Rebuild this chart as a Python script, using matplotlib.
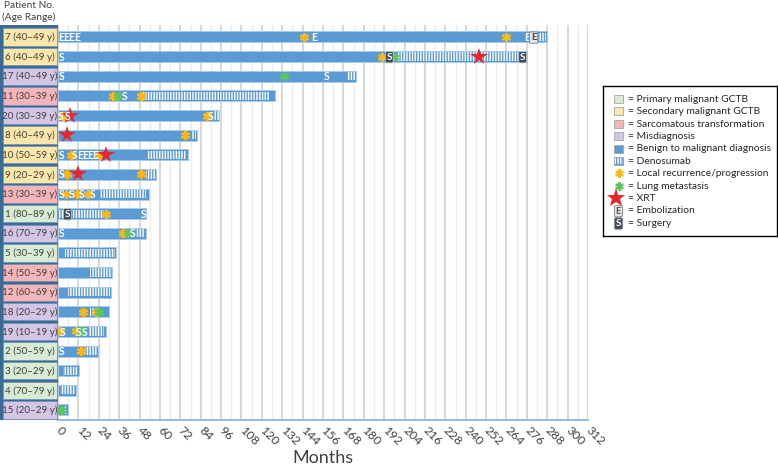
import matplotlib
matplotlib.use('Agg')
import matplotlib.pyplot as plt
from matplotlib.patches import Rectangle
import numpy as np

plt.rcParams['font.family'] = ['Lato', 'DejaVu Sans']
plt.rcParams['hatch.linewidth'] = 1.0

# ---------------- data ----------------
patients = ['7', '6', '17', '11', '20', '8', '10', '9', '13', '1',
            '16', '5', '14', '12', '18', '19', '2', '3', '4', '15']
ages = ['40–49', '40–49', '40–49', '30–39', '30–39', '40–49', '50–59', '20–29', '30–39', '80–89',
        '70–79', '30–39', '50–59', '60–69', '20–29', '10–19', '50–59', '20–29', '70–79', '20–29']
groups = ['secondary', 'secondary', 'misdiagnosis', 'sarcomatous', 'misdiagnosis', 'secondary',
          'secondary', 'secondary', 'sarcomatous', 'primary', 'misdiagnosis', 'primary',
          'sarcomatous', 'sarcomatous', 'misdiagnosis', 'misdiagnosis', 'primary', 'primary',
          'primary', 'misdiagnosis']
durations = [288, 276, 175.5, 128, 95, 82, 76.5, 57.5, 53.5, 52,
             52, 34, 32, 31, 30, 28, 23.5, 12.5, 10.5, 6]

denosumab = {
    '7': [(282, 287)], '6': [(200, 272)], '17': [(170, 175)], '11': [(50, 124)],
    '20': [(92, 94.5)], '8': [(79, 81)], '10': [(53, 75.5)], '9': [(52, 57)],
    '13': [(25, 52)], '1': [(0, 4), (8, 27)], '16': [(46, 51.5)], '5': [(4, 33.5)],
    '14': [(19, 31.5)], '12': [(6, 30.5)], '18': [(19, 22)], '19': [(18, 27)],
    '2': [(16, 23)], '3': [(3, 12)], '4': [(2, 10)], '15': [(4, 5)],
}
local_recurrence = {
    '7': [145, 264], '6': [191], '11': [32.5, 49], '20': [3, 88], '8': [75],
    '10': [7.5, 24.5], '9': [5.5, 49], '13': [4.5, 11, 17.5], '1': [28.5],
    '16': [38], '18': [15, 22.5], '19': [1, 10.5], '2': [13.5],
}
lung_metastasis = {
    '6': [198], '17': [133], '11': [35.5], '16': [41], '18': [24], '19': [13.5], '15': [2],
}
xrt = {'6': [248], '20': [7], '8': [5.5], '10': [28.5], '9': [11.5]}
surgery = {
    '6': [2], '17': [2, 158], '11': [39.5], '20': [1.3, 5.6, 90], '10': [2, 10],
    '9': [2], '13': [2, 8, 14, 20.5], '1': [50.5], '16': [2, 44],
    '19': [3, 12, 15.5], '2': [2],
}
surgery_boxed = {'6': [195, 273.5], '1': [5.5]}
embolization = {'7': [2, 5, 8, 11, 151, 276], '10': [13, 16, 19, 22]}
embolization_boxed = {'7': [280]}

group_colors = {'primary': '#D8EBD3', 'secondary': '#FCE6A9',
                'sarcomatous': '#F4B5B9', 'misdiagnosis': '#D3C5E3'}
legend_labels = ['= Primary malignant GCTB', '= Secondary malignant GCTB',
                 '= Sarcomatous transformation', '= Misdiagnosis',
                 '= Benign to malignant diagnosis', '= Denosumab',
                 '= Local recurrence/progression', '= Lung metastasis', '= XRT',
                 '= Embolization', '= Surgery']
xticks = list(range(0, 313, 12))

# ---------------- style ----------------
BAR = '#5B9BD5'
YEL = '#FDB813'
GRN = '#5CC75C'
RED = '#E8262B'
TXT = '#404040'
AST = (6, 2, 0)

W, H = 778, 467
fig = plt.figure(figsize=(W / 100, H / 100), dpi=100)


def fx(px):
    return px / W


def fy(py):
    return 1 - py / H


n = len(patients)
ylim = (n - 1 + 0.51, -0.61)

ax = fig.add_axes([fx(58), fy(420), fx(588) - fx(58), fy(25) - fy(420)])
ax.set_xlim(0, 312)
ax.set_ylim(*ylim)
for s in ['top', 'right', 'left']:
    ax.spines[s].set_visible(False)
ax.spines['bottom'].set_color('#8FB4DE')
ax.spines['bottom'].set_linewidth(1.3)
ax.set_yticks([])
ax.set_xticks(xticks)
ax.set_xticks(list(range(6, 312, 12)), minor=True)
ax.tick_params(axis='x', which='both', length=0, pad=6)
ax.set_xticklabels([str(t) for t in xticks], rotation=-45, ha='left', va='center',
                   rotation_mode='anchor', fontsize=8.8, color=TXT)
ax.grid(axis='x', which='major', color='#D9D9D9', lw=1.5)
ax.grid(axis='x', which='minor', color='#EDEDED', lw=1.0)
ax.set_axisbelow(True)
ax.set_xlabel('Months', fontsize=13, color=TXT, labelpad=2)

ys = np.arange(n)
ax.barh(ys, durations, height=0.56, color=BAR, edgecolor='#A9CBEA', linewidth=0.6, zorder=2)

LET = 7.6
for i, p in enumerate(patients):
    for s, e in denosumab.get(p, []):
        ax.barh(i, e - s, left=s, height=0.42, color=BAR, edgecolor='white',
                hatch='||||||', linewidth=0, zorder=3)
    for x in local_recurrence.get(p, []):
        ax.plot(x, i, marker=AST, ms=6.5, mew=1.6, color=YEL, zorder=5)
    for x in lung_metastasis.get(p, []):
        ax.plot(x, i, marker=AST, ms=6.5, mew=1.6, color=GRN, zorder=5)
    for x in xrt.get(p, []):
        ax.plot(x, i, marker='*', ms=13, mew=0, color=RED, zorder=6)
    for x in surgery.get(p, []):
        ax.text(x, i + 0.03, 'S', color='white', fontweight='bold', fontsize=LET,
                ha='center', va='center', zorder=7)
    for x in embolization.get(p, []):
        ax.text(x, i + 0.03, 'E', color='white', fontweight='bold', fontsize=LET,
                ha='center', va='center', zorder=7)
    for x in surgery_boxed.get(p, []):
        ax.text(x, i + 0.03, 'S', color='white', fontweight='bold', fontsize=7.2,
                ha='center', va='center', zorder=7,
                bbox=dict(boxstyle='round,pad=0.12', fc='#3E4B5B', ec='#C8C8C8', lw=0.6))
    for x in embolization_boxed.get(p, []):
        ax.text(x, i + 0.03, 'E', color='#3E4B5B', fontweight='bold', fontsize=7.2,
                ha='center', va='center', zorder=7,
                bbox=dict(boxstyle='round,pad=0.12', fc='#E6E6E6', ec='#7F7F7F', lw=0.6))

# ---------------- left label panel ----------------
lp = fig.add_axes([0, fy(420), fx(58), fy(25) - fy(420)])
lp.set_xlim(0, 1)
lp.set_ylim(*ylim)
lp.axis('off')
lp.add_patch(Rectangle((0, ylim[1]), 1, ylim[0] - ylim[1], fc='#3A6A96', ec='none'))
for i, (p, a, g) in enumerate(zip(patients, ages, groups)):
    lp.add_patch(Rectangle((0.05, i - 0.44), 0.93, 0.88, fc=group_colors[g], ec='#6F93B8', lw=0.5))
    lp.text(0.515, i + 0.02, f'{p} ({a} y)', fontsize=7.1, color=TXT, ha='center', va='center',
            clip_on=False)

fig.text(fx(29), fy(6), 'Patient No.', fontsize=7.3, color=TXT, ha='center', va='center')
fig.text(fx(29), fy(17), '(Age Range)', fontsize=7.3, color=TXT, ha='center', va='center')

# ---------------- legend ----------------
lg = fig.add_axes([fx(603), fy(236), fx(777) - fx(603), fy(86) - fy(236)])
lg.set_xlim(0, 174)
lg.set_ylim(150, 0)
lg.set_xticks([])
lg.set_yticks([])
for s in lg.spines.values():
    s.set_color('black')
    s.set_linewidth(1.0)

ly = 13 + 12.4 * np.arange(len(legend_labels))
sq_colors = [group_colors['primary'], group_colors['secondary'],
             group_colors['sarcomatous'], group_colors['misdiagnosis'], BAR]
for k, c in enumerate(sq_colors):
    lg.add_patch(Rectangle((11, ly[k] - 4), 9, 8, fc=c, ec='#A6A6A6', lw=0.6))
lg.add_patch(Rectangle((11, ly[5] - 4), 9, 8, fc=BAR, ec='#A6A6A6', lw=0.6))
lg.add_patch(Rectangle((11.5, ly[5] - 3.3), 8, 6.6, fc=BAR, ec='white', hatch='||||||', lw=0))
lg.plot(15.5, ly[6], marker=AST, ms=6, mew=1.6, color=YEL)
lg.plot(15.5, ly[7], marker=AST, ms=6, mew=1.6, color=GRN)
lg.plot(13, ly[8], marker='*', ms=14, mew=0, color=RED)
lg.text(15.5, ly[9] + 0.5, 'E', fontsize=7, color='#595959', fontweight='bold', ha='center', va='center',
        bbox=dict(boxstyle='round,pad=0.12', fc='#E6E6E6', ec='#7F7F7F', lw=0.6))
lg.text(15.5, ly[10] + 0.5, 'S', fontsize=7, color='white', fontweight='bold', ha='center', va='center',
        bbox=dict(boxstyle='round,pad=0.12', fc='#3E4B5B', ec='#7F7F7F', lw=0.6))
for k, lab in enumerate(legend_labels):
    lg.text(25, ly[k] + 0.3, lab, fontsize=7.4, color='#262626', ha='left', va='center')

fig.savefig('out.png', dpi=100)
